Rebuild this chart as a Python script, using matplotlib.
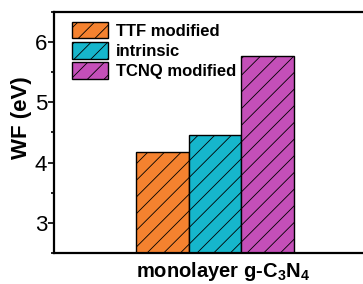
import matplotlib
matplotlib.use('Agg')
import matplotlib.pyplot as plt
from matplotlib.ticker import MultipleLocator

# work function values
labels = ['TTF modified', 'intrinsic', 'TCNQ modified']
wf_values = [4.17, 4.45, 5.77]
bar_colors = ['#F5822F', '#16B6CC', '#C44FB8']
group_label = r'monolayer g-C$_3$N$_4$'

plt.rcParams['font.family'] = ['Liberation Sans', 'DejaVu Sans']
plt.rcParams['mathtext.fontset'] = 'custom'
plt.rcParams['mathtext.rm'] = 'Liberation Sans:bold'
plt.rcParams['mathtext.bf'] = 'Liberation Sans:bold'
plt.rcParams['mathtext.default'] = 'bf'
plt.rcParams['hatch.linewidth'] = 0.6
plt.rcParams['hatch.color'] = '#202020'

fig = plt.figure(figsize=(3.63, 2.84), dpi=100)
ax = fig.add_axes([0.1488, 0.109, 0.887, 0.849])

positions = [-1, 0, 1]
for pos, val, col, lab in zip(positions, wf_values, bar_colors, labels):
    ax.bar(pos, val, width=1.0, color=col, edgecolor='black', linewidth=1.0,
           hatch='//', label=lab, zorder=2)

ax.set_xlim(-3.04, 3.04)
ax.set_ylim(2.5, 6.5)
ax.yaxis.set_major_locator(MultipleLocator(1))
ax.yaxis.set_minor_locator(MultipleLocator(0.5))
ax.tick_params(axis='y', which='major', direction='out', length=4, width=1.2,
               labelsize=16, pad=1)
ax.tick_params(axis='y', which='minor', direction='out', length=2.5, width=1.2)
ax.set_xticks([])

for side in ['left', 'bottom', 'top', 'right']:
    ax.spines[side].set_linewidth(1.6)

ax.set_ylabel('WF (eV)', fontsize=16, fontweight='bold')
ax.yaxis.set_label_coords(-0.068, 0.56)
ax.set_xlabel(group_label, fontsize=14.5, fontweight='bold')
ax.xaxis.set_label_coords(0.525, -0.03)

leg = ax.legend(loc='upper left', bbox_to_anchor=(0.025, 1.0), frameon=False,
                prop={'size': 12, 'weight': 'bold'}, handlelength=2.15,
                handleheight=1.15, handletextpad=0.5, labelspacing=0.2,
                borderaxespad=0.2)

plt.savefig('out.png', dpi=100)
